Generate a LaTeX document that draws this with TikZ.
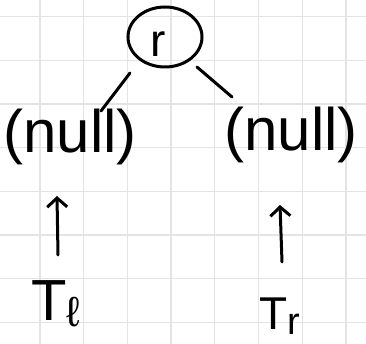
\documentclass[tikz,border=0pt]{standalone}
\usepackage{fontspec}
\setmainfont{Liberation Sans}
\usetikzlibrary{arrows.meta}
\definecolor{gridgray}{HTML}{E4E4E4}
\begin{document}
\begin{tikzpicture}[x=1pt,y=-1pt,
  gridline/.style={draw=gridgray,line width=1.3pt},
  ink/.style={line width=3pt,line cap=round,draw=black},
  hand/.style={inner sep=0pt,font=\fontsize{60}{60}\selectfont},
  ptr/.style={ink,-{Straight Barb[length=9pt,width=20pt,line width=3pt]}}]
\useasboundingbox[fill=white] (0,0) rectangle (366,344);
\foreach \i in {0,...,7} \draw[gridline] ({40+43.7*\i},0) -- ({40+43.7*\i},344);
\foreach \j in {0,...,7} \draw[gridline] (0,{16.5+43.7*\j}) -- (366,{16.5+43.7*\j});
% root
\node[inner sep=0pt] (r) at (165,37) {};
\draw[ink] (r.center) ellipse [x radius=37pt, y radius=30pt];
\node[hand,font=\fontsize{46}{46}\selectfont] (rt) at (158,44) {r};
% children
\node[hand] (nl) at (70,137) {(null)};
\node[hand] (nr) at (291,135) {(null)};
\coordinate (e1) at (130,73);
\coordinate (e2) at (101,111);
\coordinate (e3) at (197,67);
\coordinate (e4) at (232,97);
\draw[ink] (e1) -- (e2);
\draw[ink] (e3) -- (e4);
% subtrees
\node[hand,font=\fontsize{58}{58}\selectfont] (tl) at (56,304) {T\raisebox{-6pt}{\fontsize{42}{42}\selectfont ℓ}};
\node[hand,font=\fontsize{46}{46}\selectfont] (tr) at (280,316) {T\raisebox{-5pt}{\fontsize{38}{38}\selectfont r}};
\coordinate (la0) at (58,255);
\coordinate (la1) at (57,196);
\coordinate (ra0) at (282,262);
\coordinate (ra1) at (280,205);
\draw[ptr] (la0) -- (la1);
\draw[ptr] (ra0) -- (ra1);
\end{tikzpicture}
\end{document}
